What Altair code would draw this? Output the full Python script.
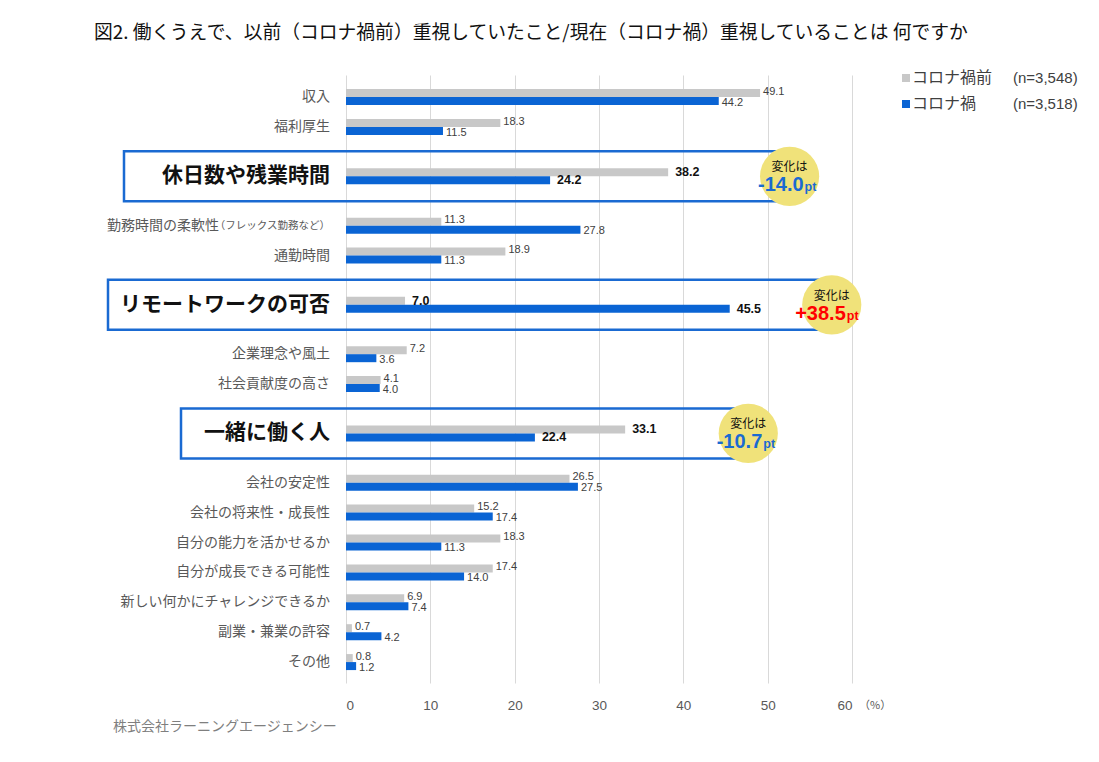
import altair as alt
import pandas as pd

# ---------------- data ----------------
categories = [
    "収入", "福利厚生", "休日数や残業時間", "勤務時間の柔軟性", "通勤時間",
    "リモートワークの可否", "企業理念や風土", "社会貢献度の高さ", "一緒に働く人",
    "会社の安定性", "会社の将来性・成長性", "自分の能力を活かせるか",
    "自分が成長できる可能性", "新しい何かにチャレンジできるか", "副業・兼業の許容", "その他",
]
before = [49.1, 18.3, 38.2, 11.3, 18.9, 7.0, 7.2, 4.1, 33.1, 26.5, 15.2, 18.3, 17.4, 6.9, 0.7, 0.8]
during = [44.2, 11.5, 24.2, 27.8, 11.3, 45.5, 3.6, 4.0, 22.4, 27.5, 17.4, 11.3, 14.0, 7.4, 4.2, 1.2]
highlighted = ["休日数や残業時間", "リモートワークの可否", "一緒に働く人"]
label_suffix = {"勤務時間の柔軟性": "（フレックス勤務など）"}
series_names = ["コロナ禍前", "コロナ禍"]
series_n = ["(n=3,548)", "(n=3,518)"]
x_ticks = [0, 10, 20, 30, 40, 50, 60]
title_text = "図2. 働くうえで、以前（コロナ禍前）重視していたこと/現在（コロナ禍）重視していることは 何ですか"
source_text = "株式会社ラーニングエージェンシー"
change_label = "変化は"

# ---------------- styles / layout ----------------
W, H = 506, 608
XMAX = 60
PXX = W / XMAX
GAP_NORMAL, GAP_HL = 1.0, 1.65
GRAY, BLUE = "#c8c8c8", "#0a64d4"
BOX_BLUE = "#1a6ad2"
CIRCLE = "#f0e27a"
JP = "Noto Sans CJK JP"
LAT = "Liberation Sans"
box_left_px = {"休日数や残業時間": -222, "リモートワークの可否": -238, "一緒に働く人": -165}
circle_offset = {"休日数や残業時間": 14.4, "リモートワークの可否": 12.1, "一緒に働く人": 14.6}

pos = []
p = 0.0
for i, c in enumerate(categories):
    if i > 0:
        p += GAP_HL if (c in highlighted or categories[i - 1] in highlighted) else GAP_NORMAL
    pos.append(p)
Y0, Y1 = -0.74, pos[-1] + 0.70
PXY = H / (Y1 - Y0)
BAR = 8 / PXY
BOXH = 25 / PXY
LBL = 1.5 / PXY

rows = pd.DataFrame({"catname": categories, "before": before, "during": during, "pos": pos})
rows["hl"] = rows["catname"].isin(highlighted)
rows["suffix"] = rows["catname"].map(label_suffix).fillna("")

bar_recs = []
for i in range(len(categories)):
    c, b, d, pp = categories[i], before[i], during[i], pos[i]
    h = c in highlighted
    bar_recs.append(dict(catname=c, series=series_names[0], value=b,
                         y1=pp - BAR, y2=pp, ym=pp - BAR / 2 - (0 if h else LBL), hl=h))
    bar_recs.append(dict(catname=c, series=series_names[1], value=d,
                         y1=pp, y2=pp + BAR, ym=pp + BAR / 2 + (0 if h else LBL), hl=h))
bars = pd.DataFrame(bar_recs)

hl_rows = rows[rows["hl"]].copy()
hl_rows["delta"] = (hl_rows["during"] - hl_rows["before"]).round(1)
hl_rows["num"] = hl_rows["delta"].map(lambda d: f"+{d:.1f}" if d > 0 else f"-{abs(d):.1f}")
hl_rows["numcolor"] = hl_rows["delta"].map(lambda d: "#ff0000" if d > 0 else "#1a6ad2")
hl_rows["cx"] = [max(b, d) + circle_offset[c] for c, b, d in
                 zip(hl_rows["catname"], hl_rows["before"], hl_rows["during"])]
hl_rows["bl"] = hl_rows["catname"].map(box_left_px) / PXX
hl_rows["bt"] = hl_rows["pos"] - BOXH
hl_rows["bb"] = hl_rows["pos"] + BOXH
hl_rows["pt"] = "pt"
hl_rows["chg"] = change_label

xs = alt.Scale(domain=[0, XMAX], nice=False, zero=False)
ys = alt.Scale(domain=[Y0, Y1], nice=False, zero=False, reverse=True)

base_bars = alt.Chart(bars).mark_bar().encode(
    x=alt.X("value:Q", scale=xs, title=None,
            axis=alt.Axis(values=x_ticks, grid=True, gridColor="#d9d9d9", gridWidth=1,
                          domain=False, ticks=False, labelPadding=15, labelFontSize=13.5,
                          labelColor="#595959", labelFont=LAT)),
    x2=alt.datum(0),
    y=alt.Y("y1:Q", scale=ys, axis=None),
    y2="y2:Q",
    color=alt.Color("series:N", scale=alt.Scale(domain=series_names, range=[GRAY, BLUE]), legend=None),
)

boxes = alt.Chart(hl_rows).mark_rect(fillOpacity=0, stroke=BOX_BLUE, strokeWidth=2.5).encode(
    x=alt.X("bl:Q", scale=xs), x2="cx:Q",
    y=alt.Y("bt:Q", scale=ys), y2="bb:Q",
)

circles = alt.Chart(hl_rows).mark_circle(size=3500, color=CIRCLE, opacity=1).encode(
    x=alt.X("cx:Q", scale=xs), y=alt.Y("pos:Q", scale=ys),
)
chg_txt = alt.Chart(hl_rows).mark_text(font=JP, fontSize=12, color="#111", dy=-9).encode(
    x=alt.X("cx:Q", scale=xs), y=alt.Y("pos:Q", scale=ys), text="chg:N",
)
num_txt = alt.Chart(hl_rows).mark_text(font=LAT, fontSize=20, fontWeight="bold", align="right",
                                        dx=14, dy=9, baseline="middle").encode(
    x=alt.X("cx:Q", scale=xs), y=alt.Y("pos:Q", scale=ys), text="num:N",
    color=alt.Color("numcolor:N", scale=None),
)
pt_txt = alt.Chart(hl_rows).mark_text(font=LAT, fontSize=12.5, fontWeight="bold", align="left",
                                       dx=15, dy=11, baseline="middle").encode(
    x=alt.X("cx:Q", scale=xs), y=alt.Y("pos:Q", scale=ys), text="pt:N",
    color=alt.Color("numcolor:N", scale=None),
)

val_norm = alt.Chart(bars[~bars["hl"]]).mark_text(font=LAT, fontSize=11, color="#404040",
                                                 align="left", dx=3, baseline="middle").encode(
    x=alt.X("value:Q", scale=xs), y=alt.Y("ym:Q", scale=ys), text=alt.Text("value:Q", format=".1f"),
)
val_hl = alt.Chart(bars[bars["hl"]]).mark_text(font=LAT, fontSize=12.5, fontWeight="bold", color="#111",
                                              align="left", dx=7, baseline="middle").encode(
    x=alt.X("value:Q", scale=xs), y=alt.Y("ym:Q", scale=ys), text=alt.Text("value:Q", format=".1f"),
)

lab_norm = alt.Chart(rows[(~rows["hl"]) & (rows["suffix"] == "")]).mark_text(
    font=JP, fontSize=14, color="#595959", align="right", dx=-16, baseline="middle").encode(
    x=alt.value(0), y=alt.Y("pos:Q", scale=ys), text="catname:N")
lab_main_sfx = alt.Chart(rows[rows["suffix"] != ""]).mark_text(
    font=JP, fontSize=14, color="#595959", align="right", dx=-127, baseline="middle").encode(
    x=alt.value(0), y=alt.Y("pos:Q", scale=ys), text="catname:N")
lab_sfx = alt.Chart(rows[rows["suffix"] != ""]).mark_text(
    font=JP, fontSize=10.5, color="#595959", align="right", dx=-16, baseline="middle").encode(
    x=alt.value(0), y=alt.Y("pos:Q", scale=ys), text="suffix:N")
lab_hl = alt.Chart(rows[rows["hl"]]).mark_text(
    font=JP, fontSize=21, fontWeight="bold", color="#111", align="right", dx=-16, baseline="middle").encode(
    x=alt.value(0), y=alt.Y("pos:Q", scale=ys), text="catname:N")

pct = alt.Chart(pd.DataFrame({"t": ["（%）"], "x": [x_ticks[-1]]})).mark_text(
    font=JP, fontSize=11, color="#595959", align="left", dx=7, baseline="middle").encode(
    x=alt.X("x:Q", scale=xs), y=alt.value(H + 23), text="t:N")

title = alt.Chart(pd.DataFrame({"t": [title_text]})).mark_text(
    font=JP, fontSize=18.8, color="#111", align="left", baseline="middle").encode(
    x=alt.value(-252), y=alt.value(-42), text="t:N")
source = alt.Chart(pd.DataFrame({"t": [source_text]})).mark_text(
    font=JP, fontSize=14, color="#7f7f7f", align="left", baseline="middle").encode(
    x=alt.value(-233), y=alt.value(652), text="t:N")

leg = pd.DataFrame({"sname": series_names, "n": series_n, "yy": [3, 29]})
leg_sq = alt.Chart(leg).mark_square(size=64, opacity=1).encode(
    x=alt.value(560), y=alt.Y("yy:Q", scale=None),
    color=alt.Color("sname:N", scale=alt.Scale(domain=series_names, range=[GRAY, BLUE]), legend=None))
leg_name = alt.Chart(leg).mark_text(font=JP, fontSize=16, color="#404040", align="left",
                                    baseline="middle").encode(
    x=alt.value(566), y=alt.Y("yy:Q", scale=None), text="sname:N")
leg_n = alt.Chart(leg).mark_text(font=LAT, fontSize=15, color="#404040", align="left",
                                 baseline="middle").encode(
    x=alt.value(667), y=alt.Y("yy:Q", scale=None), text="n:N")

chart = alt.layer(
    base_bars, boxes, circles, chg_txt, num_txt, pt_txt, val_norm, val_hl,
    lab_norm, lab_main_sfx, lab_sfx, lab_hl, pct, title, source, leg_sq, leg_name, leg_n,
).resolve_scale(color="independent").properties(
    width=W, height=H,
    autosize=alt.AutoSizeParams(type="none"),
    padding={"left": 338, "top": 67, "right": 230, "bottom": 60},
).configure_view(stroke=None)

chart.save("out.html", embed_options={"renderer": "svg", "actions": False})
